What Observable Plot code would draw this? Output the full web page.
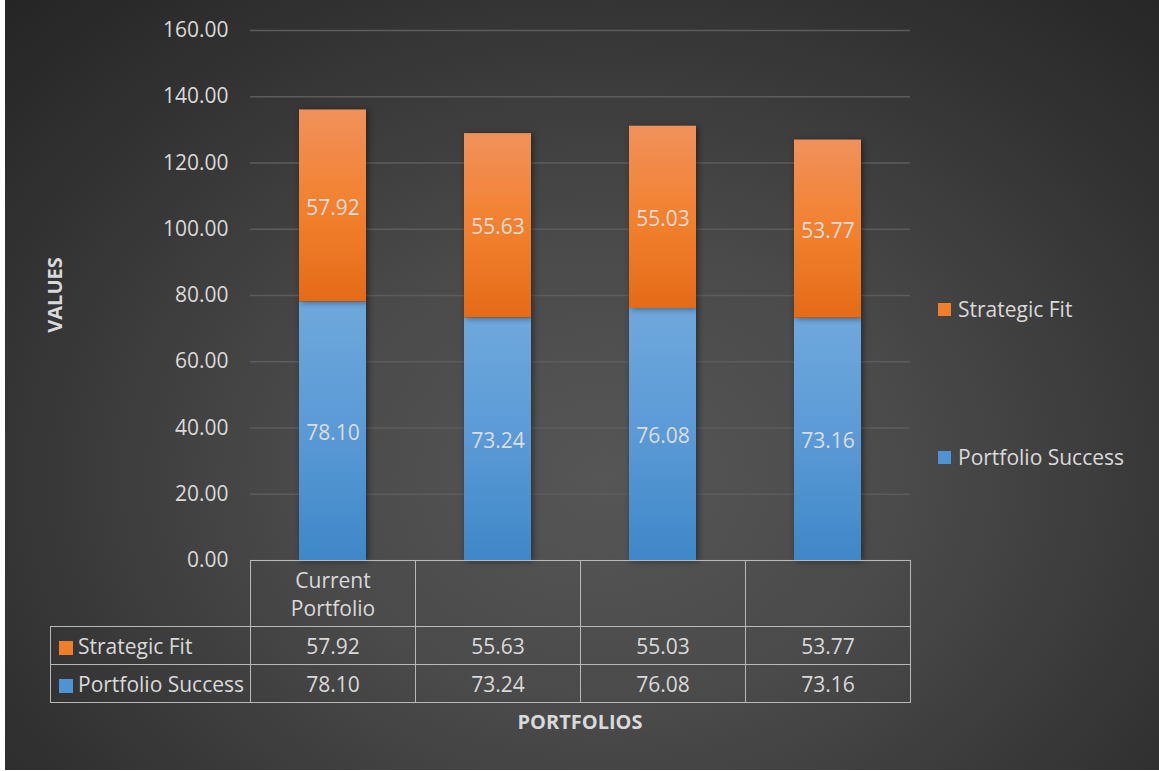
<!DOCTYPE html>
<html>
<head>
<meta charset="utf-8">
<script src="https://cdn.jsdelivr.net/npm/d3@7"></script>
<script src="https://cdn.jsdelivr.net/npm/@observablehq/plot@0.6"></script>
<style>
  html, body { margin: 0; padding: 0; background: #ffffff; }
  body { width: 1159px; height: 771px; overflow: hidden; position: relative; }
  #chart {
    position: absolute; left: 5px; top: 0; width: 1154px; height: 770px;
    background: radial-gradient(ellipse 75% 88% at 52% 62%, #565656 0%, #4a4a4a 35%, #333333 72%, #242424 100%);
    font-family: "Open Sans", sans-serif; color: #d9d9d9;
  }
  #chart svg { position: absolute; left: 0; top: 0; }
  #chart g[aria-label="bar"] rect { filter: drop-shadow(2px 1px 3px rgba(0,0,0,0.45)); }
  .title { position: absolute; font-weight: bold; font-size: 20px; color: #d9d9d9; white-space: nowrap; }
  .legend-item { position: absolute; font-size: 21px; color: #d9d9d9; white-space: nowrap; display: flex; align-items: center; }
  .swatch { display: inline-block; width: 13px; height: 13px; margin-right: 7px; }
  table.dt { position: absolute; border-collapse: collapse; font-size: 21px; color: #d9d9d9; table-layout: fixed; }
  table.dt td { border: 1.6px solid #b8b8b8; text-align: center; padding: 0; box-sizing: border-box; }
  table.dt td.row-head { text-align: left; padding-left: 8px; white-space: nowrap; }
  table.dt td.blank { border-top: none; border-left: none; }
  .hdr { width: 120px; margin: 0 auto; line-height: 28px; }
</style>
</head>
<body>
<div id="chart"></div>
<script>
// ---- data ----
const categories = ["P1", "P2", "P3", "P4"];
const categoryLabels = ["Current Portfolio", "", "", ""];
const seriesNames = ["Portfolio Success", "Strategic Fit"];
const portfolioSuccess = [78.10, 73.24, 76.08, 73.16];
const strategicFit = [57.92, 55.63, 55.03, 53.77];
const yTicks = [0, 20, 40, 60, 80, 100, 120, 140, 160];
const seriesColors = ["#4f93d3", "#f07e2a"];
const tableOrder = ["Strategic Fit", "Portfolio Success"];

const valuesBySeries = {"Portfolio Success": portfolioSuccess, "Strategic Fit": strategicFit};
const rows = [];
seriesNames.forEach(s => categories.forEach((c, i) => rows.push({cat: c, series: s, value: valuesBySeries[s][i]})));

const W = 1154, H = 770;
const mLeft = 245, mRight = 249, mTop = 30, mBottom = 210;

const chart = Plot.plot({
  width: W, height: H,
  marginLeft: mLeft, marginRight: mRight, marginTop: mTop, marginBottom: mBottom,
  style: {background: "transparent", color: "#d9d9d9", fontFamily: "Open Sans, sans-serif", fontSize: "21px", overflow: "visible"},
  x: {domain: categories, paddingInner: 0.594, paddingOuter: 0.297, axis: null},
  y: {domain: [0, 160], axis: null},
  color: {domain: seriesNames, range: ["url(#gBlue)", "url(#gOrange)"]},
  marks: [
    Plot.gridY(yTicks, {stroke: "#5c5c5c", strokeOpacity: 1, strokeWidth: 1.3}),
    Plot.axisY(yTicks, {tickSize: 0, tickPadding: 22, tickFormat: d => d.toFixed(2), fontSize: 21, fill: "#d9d9d9", label: null}),
    Plot.barY(rows, {x: "cat", y: "value", z: "series", fill: "series", order: seriesNames}),
    Plot.text(rows, Plot.stackY({x: "cat", y: "value", z: "series", order: seriesNames, text: d => d.value.toFixed(2), fill: "#dcdcdc", fontSize: 21, dy: 2}))
  ]
});

const root = document.getElementById("chart");
root.appendChild(chart);

// gradients for bars
d3.select(chart).insert("defs", ":first-child").html(`
  <linearGradient id="gOrange" x1="0" y1="0" x2="0" y2="1">
    <stop offset="0" stop-color="#f0915c"/>
    <stop offset="0.5" stop-color="#f3812e"/>
    <stop offset="1" stop-color="#e46b18"/>
  </linearGradient>
  <linearGradient id="gBlue" x1="0" y1="0" x2="0" y2="1">
    <stop offset="0" stop-color="#6fa8dc"/>
    <stop offset="0.5" stop-color="#5a9ad6"/>
    <stop offset="1" stop-color="#3f87c8"/>
  </linearGradient>`);

// data table below, aligned with the x scale
const xs = chart.scale("x");
const step = xs.step !== undefined ? xs.step : (xs.range[1] - xs.range[0]) / categories.length;
const plotLeft = xs.range[0];
const firstColW = 200;
const table = document.createElement("table");
table.className = "dt";
table.style.left = (plotLeft - firstColW) + "px";
table.style.top = (H - mBottom) + "px";
let html = `<colgroup><col style="width:${firstColW}px">` + categories.map(() => `<col style="width:${step}px">`).join("") + `</colgroup>`;
html += `<tr style="height:66px"><td class="blank" style="border-top:none;border-left:none"></td>` +
  categoryLabels.map(l => `<td><div class="hdr">${l}</div></td>`).join("") + `</tr>`;
tableOrder.forEach(s => {
  const col = seriesColors[seriesNames.indexOf(s)];
  html += `<tr style="height:38px"><td class="row-head"><span class="swatch" style="background:${col};width:14px;height:14px;vertical-align:-1px;margin-right:5px"></span>${s}</td>` +
    valuesBySeries[s].map(v => `<td>${v.toFixed(2)}</td>`).join("") + `</tr>`;
});
table.innerHTML = html;
root.appendChild(table);

// legend on the right
const legendY = [309, 457];
tableOrder.forEach((s, i) => {
  const col = seriesColors[seriesNames.indexOf(s)];
  const el = document.createElement("div");
  el.className = "legend-item";
  el.style.left = "933px";
  el.style.top = (legendY[i] - 15) + "px";
  el.style.height = "30px";
  el.innerHTML = `<span class="swatch" style="background:${col}"></span>${s}`;
  root.appendChild(el);
});

// axis titles
const xt = document.createElement("div");
xt.className = "title";
xt.textContent = "PORTFOLIOS";
xt.style.left = (plotLeft + (xs.range[1] - plotLeft) / 2) + "px";
xt.style.top = "708px";
xt.style.transform = "translateX(-50%)";
root.appendChild(xt);

const yt = document.createElement("div");
yt.className = "title";
yt.textContent = "VALUES";
yt.style.left = "49px";
yt.style.top = "295px";
yt.style.transform = "translate(-50%, -50%) rotate(-90deg)";
root.appendChild(yt);
</script>
</body>
</html>
